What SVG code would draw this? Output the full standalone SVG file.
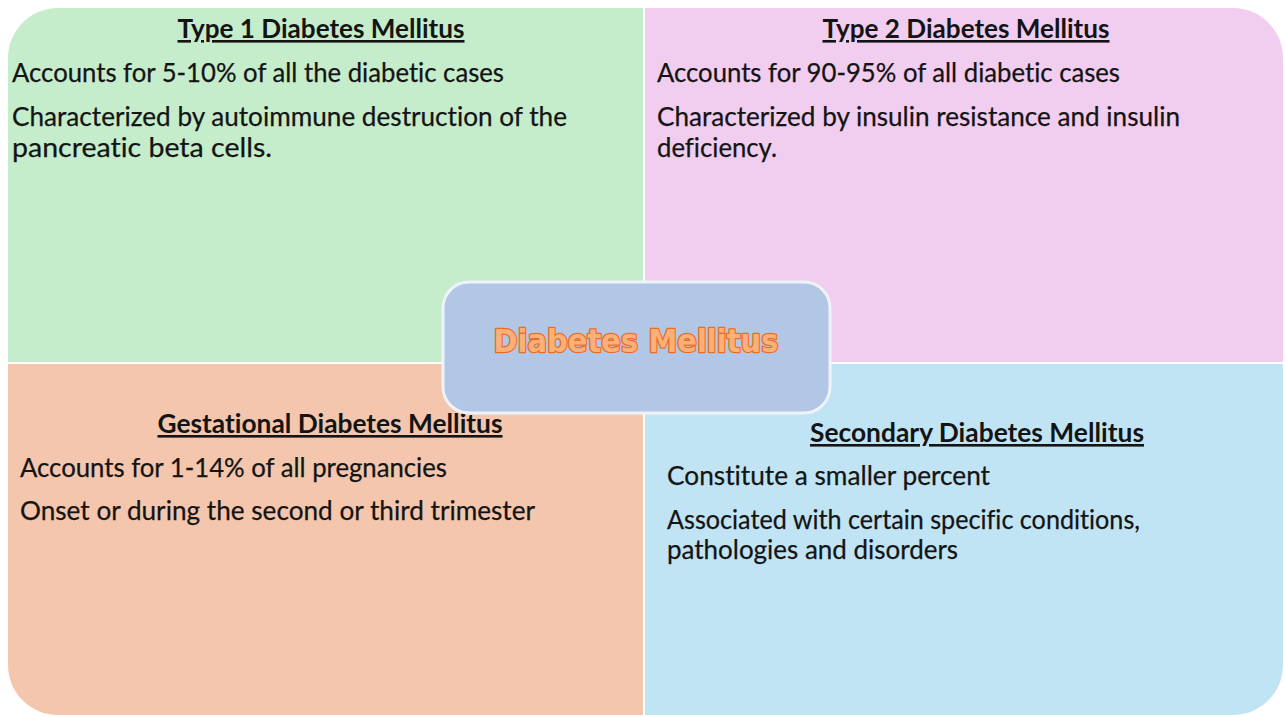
<svg xmlns="http://www.w3.org/2000/svg" width="1285" height="717" viewBox="0 0 1285 717">
  <style>
    .title { font-family: Lato, "Open Sans", "Liberation Sans", sans-serif; font-weight: bold; font-size: 26px; fill: #141414; text-decoration: underline; font-variant-ligatures: none; }
    .body { font-family: Lato, "Open Sans", "Liberation Sans", sans-serif; font-size: 26.5px; fill: #141414; stroke: #141414; stroke-width: 0.25px; font-variant-ligatures: none; }
    .hub { font-family: "DejaVu Sans Condensed", "DejaVu Sans", Verdana, sans-serif; font-weight: bold; font-size: 32px; fill: #fbb07a; stroke: #e86d27; stroke-width: 2.4px; paint-order: stroke; stroke-linejoin: round; }
  </style>
  <rect width="1285" height="717" fill="#ffffff"/>

  <!-- Type 1 quadrant (top-left) -->
  <g id="type1">
    <path d="M8,58 A50,50 0 0 1 58,8 H643 V362 H8 Z" fill="#c5edcc"/>
    <text class="title" x="321" y="38" text-anchor="middle" textLength="287" lengthAdjust="spacingAndGlyphs">Type 1 Diabetes Mellitus</text>
    <text class="body" x="12" y="82" textLength="492" lengthAdjust="spacingAndGlyphs">Accounts for 5-10% of all the diabetic cases</text>
    <text class="body" x="12" y="126" textLength="555" lengthAdjust="spacingAndGlyphs">Characterized by autoimmune destruction of the</text>
    <text class="body" x="12" y="157" textLength="260" lengthAdjust="spacingAndGlyphs">pancreatic beta cells.</text>
  </g>

  <!-- Type 2 quadrant (top-right) -->
  <g id="type2">
    <path d="M645,8 H1233 A50,50 0 0 1 1283,58 V362 H645 Z" fill="#f1cdef"/>
    <text class="title" x="966" y="38" text-anchor="middle" textLength="287" lengthAdjust="spacingAndGlyphs">Type 2 Diabetes Mellitus</text>
    <text class="body" x="657" y="82" textLength="463" lengthAdjust="spacingAndGlyphs">Accounts for 90-95% of all diabetic cases</text>
    <text class="body" x="657" y="126" textLength="523" lengthAdjust="spacingAndGlyphs">Characterized by insulin resistance and insulin</text>
    <text class="body" x="657" y="157" textLength="120" lengthAdjust="spacingAndGlyphs">deficiency.</text>
  </g>

  <!-- Gestational quadrant (bottom-left) -->
  <g id="gestational">
    <path d="M8,364 H643 V715 H58 A50,50 0 0 1 8,665 Z" fill="#f4c6ad"/>
    <text class="title" x="330" y="433" text-anchor="middle" textLength="345" lengthAdjust="spacingAndGlyphs">Gestational Diabetes Mellitus</text>
    <text class="body" x="20" y="477" textLength="427" lengthAdjust="spacingAndGlyphs">Accounts for 1-14% of all pregnancies</text>
    <text class="body" x="20" y="520" textLength="515" lengthAdjust="spacingAndGlyphs">Onset or during the second or third trimester</text>
  </g>

  <!-- Secondary quadrant (bottom-right) -->
  <g id="secondary">
    <path d="M645,364 H1283 V665 A50,50 0 0 1 1233,715 H645 Z" fill="#c1e4f5"/>
    <text class="title" x="977" y="442" text-anchor="middle" textLength="334" lengthAdjust="spacingAndGlyphs">Secondary Diabetes Mellitus</text>
    <text class="body" x="667" y="485" textLength="323" lengthAdjust="spacingAndGlyphs">Constitute a smaller percent</text>
    <text class="body" x="667" y="529" textLength="473" lengthAdjust="spacingAndGlyphs">Associated with certain specific conditions,</text>
    <text class="body" x="667" y="559" textLength="291" lengthAdjust="spacingAndGlyphs">pathologies and disorders</text>
  </g>

  <!-- Central hub -->
  <g id="hub">
    <rect x="443" y="282" width="387" height="131" rx="26" ry="26" fill="#b2c7e5" stroke="#eef3fa" stroke-width="3"/>
    <text class="hub" x="636" y="352" text-anchor="middle" textLength="285" lengthAdjust="spacingAndGlyphs">Diabetes Mellitus</text>
  </g>
</svg>
